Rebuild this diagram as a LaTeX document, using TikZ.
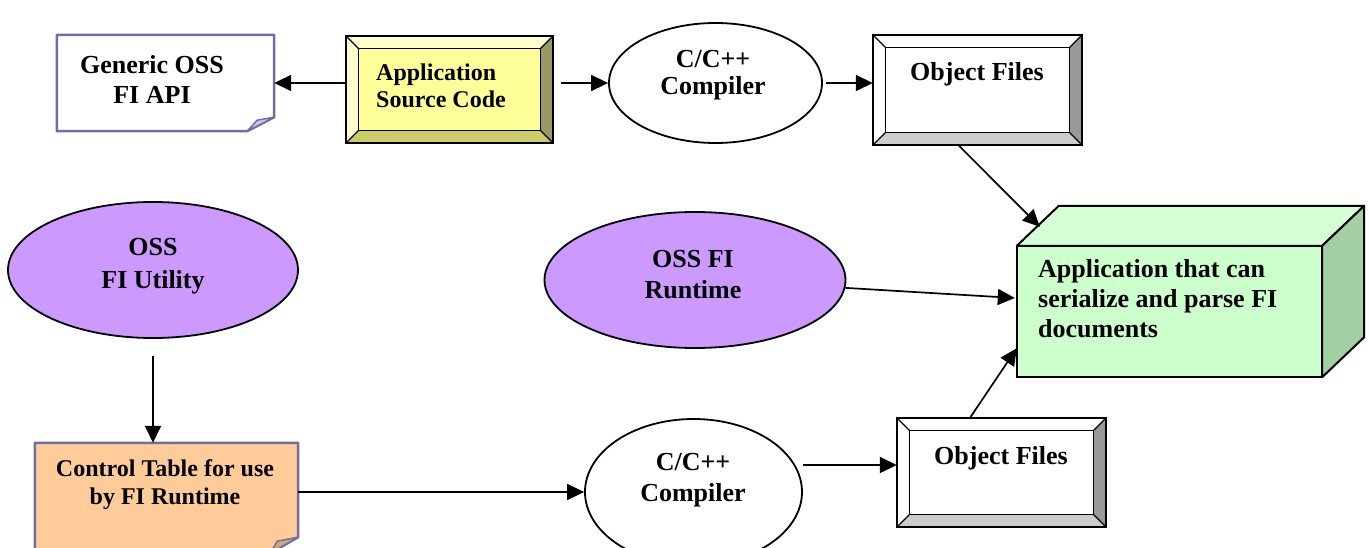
\documentclass[tikz,border=0pt]{standalone}
\usepackage{fontspec}
\setmainfont{Liberation Serif}
\usetikzlibrary{shapes.geometric,arrows.meta,calc}
\definecolor{notecol}{HTML}{6E6EA6}
\definecolor{foldblue}{HTML}{C9C9E6}
\definecolor{ascface}{HTML}{FFFF99}
\definecolor{asclight}{HTML}{FFFFCC}
\definecolor{ascright}{HTML}{999966}
\definecolor{ascbot}{HTML}{CCCC66}
\definecolor{ofright}{HTML}{999999}
\definecolor{ofbot}{HTML}{CCCCCC}
\definecolor{ctfill}{HTML}{FFCC99}
\definecolor{ctfold}{HTML}{D4A574}
\definecolor{purp}{HTML}{CC99FF}
\definecolor{appfront}{HTML}{CCFFCC}
\definecolor{apptop}{HTML}{D6FFD6}
\definecolor{appright}{HTML}{A3CFA3}
\newcommand\bevelbox[6]{%
  \fill[#3] (#1.north west) -- (#1.north east) -- ([shift={(-#2,-#2)}]#1.north east) -- ([shift={(#2,-#2)}]#1.north west) -- cycle;
  \fill[#4] (#1.north west) -- ([shift={(#2,-#2)}]#1.north west) -- ([shift={(#2,#2)}]#1.south west) -- (#1.south west) -- cycle;
  \fill[#5] (#1.north east) -- (#1.south east) -- ([shift={(-#2,#2)}]#1.south east) -- ([shift={(-#2,-#2)}]#1.north east) -- cycle;
  \fill[#6] (#1.south west) -- ([shift={(#2,#2)}]#1.south west) -- ([shift={(-#2,#2)}]#1.south east) -- (#1.south east) -- cycle;
  \draw[line width=1.3pt] ([shift={(#2,-#2)}]#1.north west) rectangle ([shift={(-#2,#2)}]#1.south east);
  \draw[line width=1.3pt] (#1.north west) -- ([shift={(#2,-#2)}]#1.north west)
    (#1.north east) -- ([shift={(-#2,-#2)}]#1.north east)
    (#1.south east) -- ([shift={(-#2,#2)}]#1.south east)
    (#1.south west) -- ([shift={(#2,#2)}]#1.south west);
  \draw[line width=2.2pt] (#1.north west) rectangle (#1.south east);
}
\begin{document}
\begin{tikzpicture}[x=1pt,y=-1pt,
  arr/.style={draw, line width=1.7pt, -{Triangle[length=17pt,width=16pt]}},
  box/.style={rectangle, inner sep=0pt, draw=none},
  ell/.style={ellipse, inner sep=0pt, draw, line width=1.8pt},
  txt/.style={font=\fontsize{26}{30}\selectfont\bfseries, align=center, inner sep=0pt},
  stxt/.style={font=\fontsize{24}{27}\selectfont\bfseries, align=center, inner sep=0pt}]
\useasboundingbox (0,0) rectangle (1369,548);

% Generic OSS FI API note
\node[box, minimum width=217pt, minimum height=96pt] (apibox) at (165.5,83) {};
\draw[notecol, line width=2.5pt, fill=white, line join=round] (apibox.north west) -- (apibox.north east) -- ([yshift=14pt]apibox.south east) -- ([xshift=-27pt]apibox.south east) -- (apibox.south west) -- cycle;
\filldraw[notecol, line width=1.5pt, fill=foldblue, line join=round] ([xshift=-27pt]apibox.south east) -- ([xshift=-17pt,yshift=11pt]apibox.south east) -- ([yshift=14pt]apibox.south east) -- cycle;
\node[txt] (apitext) at (152,79) {Generic OSS\\FI API};

% Application Source Code
\node[box, fill=ascface, minimum width=207pt, minimum height=107pt] (asc) at (449.5,89.5) {};
\bevelbox{asc}{13pt}{asclight}{asclight}{ascright}{ascbot}
\node[stxt, align=left] (asctext) at (441,86) {Application\\Source Code};

% C/C++ Compiler top
\node[ell, fill=white, minimum width=213pt, minimum height=120pt] (comp1) at (715.5,83) {};
\node[txt, font=\fontsize{26}{27}\selectfont\bfseries] (comp1text) at (713,75) {C/C++\\Compiler};

% Object Files top
\node[box, fill=white, minimum width=209pt, minimum height=110pt] (of1) at (977.5,90) {};
\bevelbox{of1}{13pt}{white}{white}{ofright}{ofbot}
\node[txt] (of1text) at (977,74) {Object Files};

% Application 3D box
\node[box, fill=appfront, minimum width=305pt, minimum height=131pt] (app) at (1169.5,311.5) {};
\filldraw[fill=apptop, line width=2pt, line join=round] (app.north west) -- ([shift={(42pt,40pt)}]app.north west) -- ([shift={(42pt,40pt)}]app.north east) -- (app.north east) -- cycle;
\filldraw[fill=appright, line width=2pt, line join=round] (app.north east) -- ([shift={(42pt,40pt)}]app.north east) -- ([shift={(42pt,40pt)}]app.south east) -- (app.south east) -- cycle;
\draw[line width=2pt] (app.north west) rectangle (app.south east);
\node[txt, align=left, anchor=west] (apptext) at (1038,299) {Application that can\\serialize and parse FI\\documents};

% OSS FI Utility
\node[ell, fill=purp, minimum width=290pt, minimum height=136pt] (util) at (153,270) {};
\node[txt, font=\fontsize{26}{33}\selectfont\bfseries] (utiltext) at (153,266) {OSS\\FI Utility};

% OSS FI Runtime
\node[ell, fill=purp, minimum width=301pt, minimum height=136pt] (rt) at (695,280) {};
\node[txt, font=\fontsize{26}{31}\selectfont\bfseries] (rttext) at (693,275) {OSS FI\\Runtime};

% Control Table note
\node[box, minimum width=263pt, minimum height=110pt] (ct) at (166.5,498) {};
\draw[notecol, line width=2.5pt, fill=ctfill, line join=round] (ct.north west) -- (ct.north east) -- ([yshift=16pt]ct.south east) -- ([xshift=-28pt]ct.south east) -- (ct.south west) -- cycle;
\filldraw[notecol, line width=1.5pt, fill=ctfold, line join=round] ([xshift=-28pt]ct.south east) -- ([xshift=-21pt,yshift=12pt]ct.south east) -- ([yshift=16pt]ct.south east) -- cycle;
\node[stxt, font=\fontsize{24}{28}\selectfont\bfseries] (cttext) at (165,485) {Control Table for use\\by FI Runtime};

% C/C++ Compiler bottom
\node[ell, fill=white, minimum width=217pt, minimum height=146pt] (comp2) at (693.5,492) {};
\node[txt, font=\fontsize{26}{31}\selectfont\bfseries] (comp2text) at (693,480) {C/C++\\Compiler};

% Object Files bottom
\node[box, fill=white, minimum width=209pt, minimum height=109pt] (of2) at (1001.5,472.5) {};
\bevelbox{of2}{13pt}{white}{white}{ofright}{ofbot}
\node[txt] (of2text) at (1001,458) {Object Files};

% connectors
\coordinate (appA) at ([shift={(23pt,19pt)}]app.north west);
\draw[arr] (asc.west |- apibox.east) -- (apibox.east);
\draw[arr] ([xshift=8pt]asc.east |- comp1.west) -- (comp1.west);
\draw[arr] ([xshift=3pt]comp1.east) -- (comp1.east -| of1.west);
\draw[arr] ([xshift=-19pt]of1.south) -- (appA);
\draw[arr] (rt.-3) -- ([xshift=-2pt,yshift=13.5pt]app.west);
\draw[arr] ([xshift=-31.5pt]of2.north) -- ([yshift=29pt]app.south west);
\draw[arr] ([yshift=-17pt]util.south) -- (util.south |- ct.north);
\draw[arr] ([yshift=6pt]ct.east) -- (comp2.west);
\draw[arr] ([shift={(109.5pt,27pt)}]comp2.center) coordinate (c2o) -- (c2o -| of2.west);
\end{tikzpicture}
\end{document}
